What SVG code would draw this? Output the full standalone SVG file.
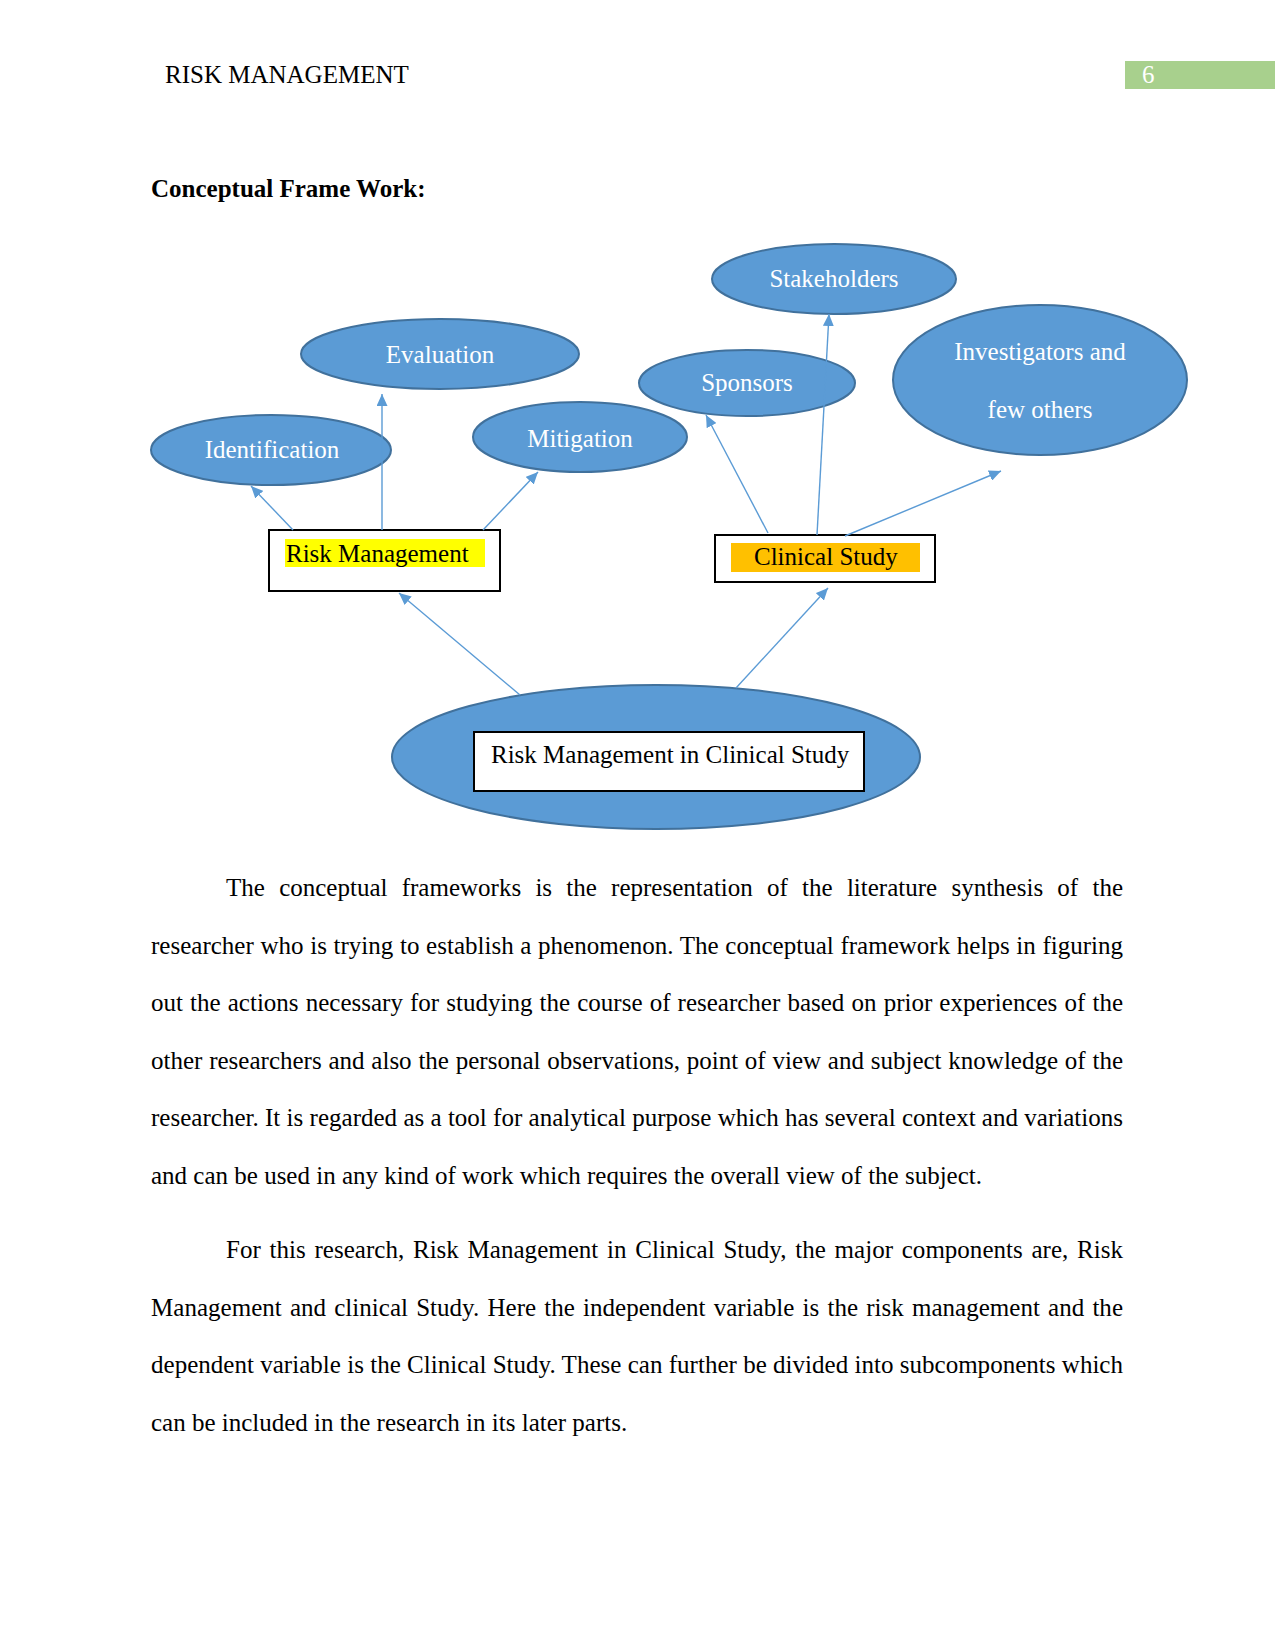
<svg xmlns="http://www.w3.org/2000/svg" width="1275" height="1650" viewBox="0 0 1275 1650">
<defs>
<style>
text{font-family:"Liberation Serif","Times New Roman",serif;font-size:25px;fill:#000}
.node ellipse{fill:#5b9bd5;stroke:#41719c;stroke-width:2}
.lbl{fill:#fff;text-anchor:middle}
.box{fill:#fff;stroke:#000;stroke-width:2}
.conn line{stroke:#5b9bd5;stroke-width:1.4;fill:none;marker-end:url(#arr)}
</style>
<marker id="arr" viewBox="0 0 12 11" refX="12" refY="5.5" markerWidth="12" markerHeight="11" markerUnits="userSpaceOnUse" orient="auto">
<path d="M0,0 L12,5.5 L0,11 z" fill="#5b9bd5"/>
</marker>
</defs>
<rect width="1275" height="1650" fill="#fff"/>
<g id="header">
<text x="165" y="83">RISK MANAGEMENT</text>
<rect x="1125" y="61" width="150" height="28" fill="#a8d08d"/>
<text x="1142" y="83" style="fill:#fff">6</text>
</g>
<text x="151" y="197" style="font-weight:bold">Conceptual Frame Work:</text>

<g id="stakeholders" class="node"><ellipse cx="834" cy="279" rx="122" ry="35"/><text class="lbl" x="834" y="287">Stakeholders</text></g>
<g id="evaluation" class="node"><ellipse cx="440" cy="354" rx="139" ry="35"/><text class="lbl" x="440" y="363">Evaluation</text></g>
<g id="identification" class="node"><ellipse cx="271" cy="450" rx="120" ry="35"/><text class="lbl" x="272" y="458">Identification</text></g>
<g id="mitigation" class="node"><ellipse cx="580" cy="437" rx="107" ry="35"/><text class="lbl" x="580" y="447">Mitigation</text></g>
<g id="sponsors" class="node"><ellipse cx="747" cy="383" rx="108" ry="33"/><text class="lbl" x="747" y="391">Sponsors</text></g>
<g id="investigators" class="node"><ellipse cx="1040" cy="380" rx="147" ry="75"/><text class="lbl" x="1040" y="360">Investigators and</text><text class="lbl" x="1040" y="418">few others</text></g>

<g id="risk-management">
<rect class="box" x="269" y="530" width="231" height="61"/>
<rect x="285" y="539" width="200" height="28" fill="#ffff00"/>
<text x="286" y="562">Risk Management</text>
</g>
<g id="clinical-study">
<rect class="box" x="715" y="535" width="220" height="47"/>
<rect x="731" y="543" width="189" height="29" fill="#ffc000"/>
<text x="754" y="565">Clinical Study</text>
</g>
<g id="risk-management-in-clinical-study" class="node">
<ellipse cx="656" cy="757" rx="264" ry="72"/>
<rect class="box" x="474" y="732" width="390" height="59"/>
<text x="491" y="763">Risk Management in Clinical Study</text>
</g>

<g id="connectors" class="conn">
<line x1="293" y1="530" x2="251" y2="486"/>
<line x1="382" y1="530" x2="382" y2="394"/>
<line x1="483" y1="530" x2="538" y2="472"/>
<line x1="768" y1="533" x2="706" y2="415"/>
<line x1="817" y1="535" x2="829" y2="314"/>
<line x1="845" y1="536" x2="1001" y2="471"/>
<line x1="520" y1="695" x2="399" y2="593"/>
<line x1="736" y1="688" x2="828" y2="588"/>
</g>

<g id="body">
<text x="226" y="896" word-spacing="8" textLength="897" lengthAdjust="spacing">The conceptual frameworks is the representation of the literature synthesis of the</text>
<text x="151" y="954" word-spacing="0.4" textLength="972" lengthAdjust="spacing">researcher who is trying to establish a phenomenon. The conceptual framework helps in figuring</text>
<text x="151" y="1011" word-spacing="0.9" textLength="972" lengthAdjust="spacing">out the actions necessary for studying the course of researcher based on prior experiences of the</text>
<text x="151" y="1069" word-spacing="0.5" textLength="972" lengthAdjust="spacing">other researchers and also the personal observations, point of view and subject knowledge of the</text>
<text x="151" y="1126" textLength="972" lengthAdjust="spacing">researcher. It is regarded as a tool for analytical purpose which has several context and variations</text>
<text x="151" y="1184">and can be used in any kind of work which requires the overall view of the subject.</text>
<text x="226" y="1258" word-spacing="2.5" textLength="897" lengthAdjust="spacing">For this research, Risk Management in Clinical Study, the major components are, Risk</text>
<text x="151" y="1316" word-spacing="1.9" textLength="972" lengthAdjust="spacing">Management and clinical Study. Here the independent variable is the risk management and the</text>
<text x="151" y="1373" textLength="972" lengthAdjust="spacing">dependent variable is the Clinical Study. These can further be divided into subcomponents which</text>
<text x="151" y="1431">can be included in the research in its later parts.</text>
</g>
</svg>
